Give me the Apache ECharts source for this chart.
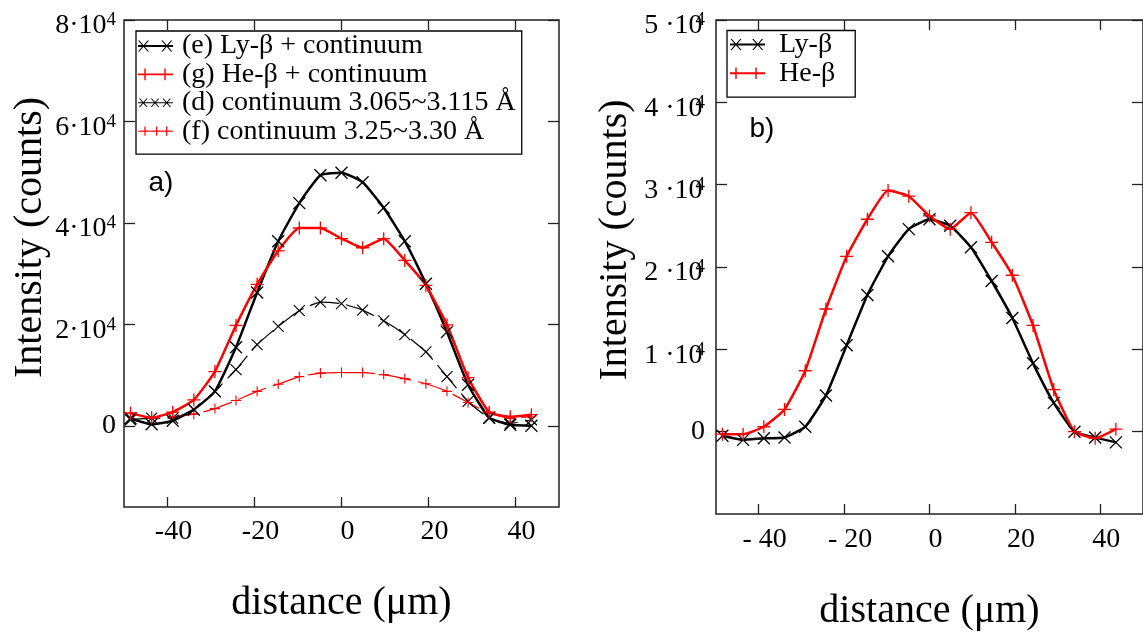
<!DOCTYPE html>
<html>
<head>
<meta charset="utf-8">
<script src="https://cdn.jsdelivr.net/npm/echarts@6/dist/echarts.min.js"></script>
<style>
html,body{margin:0;padding:0;background:#fff;}
#chart{width:1143px;height:636px;}
</style>
</head>
<body>
<div id="chart"></div>
<script>
// ---------- data ----------
const distance = [-48.5, -43.65, -38.8, -33.95, -29.1, -24.25, -19.4, -14.55, -9.7, -4.85, 0, 4.85, 9.7, 14.55, 19.4, 24.25, 29.1, 33.95, 38.8, 43.65];

// panel a)
const lyBetaCont = [1500, 300, 1000, 3200, 6800, 15500, 26300, 36400, 43900, 49400, 49900, 48000, 43000, 36400, 28000, 18500, 8100, 1600, 200, 0];
const heBetaCont = [2500, 1600, 2700, 5100, 10700, 19800, 27900, 34500, 39000, 39000, 36900, 35100, 36900, 32600, 27700, 19900, 9500, 2700, 1800, 2200];
const contD = [1200, 1500, 1500, 3200, 6800, 11100, 16000, 19600, 22700, 24400, 24100, 22800, 20700, 18000, 14600, 9700, 4800, 1500, 500, 1200];
const contF = [2500, 1500, 1800, 2300, 3400, 5000, 6800, 8200, 9700, 10400, 10500, 10500, 10100, 9300, 8300, 6800, 4600, 2500, 1500, 1800];

// panel b)
const lyBeta = [-500, -1000, -800, -700, 600, 4400, 10500, 16600, 21300, 24600, 25800, 25000, 22400, 18300, 13800, 8300, 3500, 0, -700, -1300];
const heBeta = [-300, -300, 600, 2700, 7400, 14900, 21300, 25800, 29300, 28600, 26200, 24600, 26600, 23000, 19000, 12900, 5100, 0, -800, 300];

// tick labels / ranges
const xTicks = [-40, -20, 0, 20, 40];
const yTicksA = [0, 20000, 40000, 60000, 80000];
const yTicksB = [0, 10000, 20000, 30000, 40000, 50000];
const xRange = [-50, 50];
const yRangeA = [-16000, 80000];
const yRangeB = [-10000, 50000];

const names = {
  e: '(e) Ly-β + continuum',
  g: '(g) He-β + continuum',
  d: '(d) continuum 3.065~3.115 Å',
  f: '(f) continuum 3.25~3.30 Å',
  ly: 'Ly-β',
  he: 'He-β'
};

// ---------- styling helpers ----------
const SERIF = "'Liberation Serif', 'Times New Roman', serif";
const SANS = "'Liberation Sans', Arial, sans-serif";
const FRAME = '#222';

function xm(cx, cy, h, t) {
  return `M${cx-h} ${cy-h}L${cx-h+t} ${cy-h}L${cx+h} ${cy+h}L${cx+h-t} ${cy+h}Z` +
         `M${cx+h-t} ${cy-h}L${cx+h} ${cy-h}L${cx-h+t} ${cy+h}L${cx-h} ${cy+h}Z`;
}
function pm(cx, cy, h, t) {
  return `M${cx-h} ${cy-t/2}L${cx+h} ${cy-t/2}L${cx+h} ${cy+t/2}L${cx-h} ${cy+t/2}Z` +
         `M${cx-t/2} ${cy-h}L${cx+t/2} ${cy-h}L${cx+t/2} ${cy+h}L${cx-t/2} ${cy+h}Z`;
}
function bar(w, cy, t) {
  return `M0 ${cy-t/2}L${w} ${cy-t/2}L${w} ${cy+t/2}L0 ${cy+t/2}Z`;
}
const BOUNDS = 'M0 0L35 0M0 12L35 12';

const iconE = 'path://' + BOUNDS + bar(35, 6, 1.9) + xm(5.5, 6, 5.5, 1.4) + xm(28.8, 6, 5.5, 1.4);
const iconG = 'path://' + BOUNDS + bar(35, 6, 1.9) + pm(7, 6, 5.8, 1.4) + pm(27, 6, 5.8, 1.4);
const iconD = 'path://' + BOUNDS + bar(35, 6, 1.0) + xm(5.3, 6, 4.3, 1.2) + xm(17, 6, 4.3, 1.2) + xm(28.7, 6, 4.3, 1.2);
const iconF = 'path://' + BOUNDS + bar(35, 6, 1.0) + pm(7, 6, 4.6, 1.2) + pm(18.7, 6, 4.6, 1.2) + pm(28.7, 6, 4.6, 1.2);
const iconLy = 'path://' + BOUNDS + bar(35, 6, 1.9) + xm(6, 6, 5.5, 1.4) + xm(27.7, 6, 5.5, 1.4);
const iconHe = 'path://' + BOUNDS + bar(35, 6, 1.9) + pm(6, 6, 5.8, 1.4) + pm(26, 6, 5.8, 1.4);

const X_SYM = 'path://M0,0L10,10M10,0L0,10';
const P_SYM = 'path://M5,0L5,10M0,5L10,5';

function pts(vals) { return distance.map((x, i) => [x, vals[i]]); }

function xAxisDef(grid, pos, labels, labelFmt, margin, gap) {
  return {
    type: 'value', gridIndex: grid, position: pos,
    min: xRange[0], max: xRange[1],
    axisLine: {show: false, onZero: false},
    splitLine: {show: false},
    axisTick: {show: true, inside: true, length: 10, customValues: xTicks, lineStyle: {color: FRAME, width: 1.3}},
    axisLabel: labels ? {show: true, customValues: xTicks, margin: margin, formatter: labelFmt,
      fontFamily: SERIF, fontSize: 28, color: '#000', padding: [0, 0, 0, 12]} : {show: false},
    name: labels ? 'distance (μm)' : '',
    nameLocation: 'middle', nameGap: gap,
    nameTextStyle: {fontFamily: SERIF, fontSize: 40, color: '#000'}
  };
}

function yLabelFmt(sep) {
  return function (v) {
    if (v === 0) return '{z|0}';
    return '{m|' + (v / 10000) + sep + '10}{s|4}';
  };
}
function yRich(supShift) {
  return {
    z: {fontFamily: SERIF, fontSize: 28, color: '#000', lineHeight: 28},
    m: {fontFamily: SERIF, fontSize: 28, color: '#000', lineHeight: 28, padding: [12, 0, 0, 0]},
    s: {fontFamily: SERIF, fontSize: 19, color: '#000', lineHeight: 20, padding: [5, 0, 0, supShift], verticalAlign: 'top'}
  };
}

function yAxisDef(grid, pos, range, ticks, labels, sep, supShift, margin, gap, namePad) {
  return {
    type: 'value', gridIndex: grid, position: pos,
    min: range[0], max: range[1],
    axisLine: {show: false, onZero: false},
    splitLine: {show: false},
    axisTick: {show: true, inside: true, length: 11, customValues: ticks, lineStyle: {color: FRAME, width: 1.3}},
    axisLabel: labels ? {show: true, customValues: ticks, margin: margin, formatter: yLabelFmt(sep), rich: yRich(supShift)} : {show: false},
    name: labels ? 'Intensity (counts)' : '',
    nameLocation: 'middle', nameGap: gap,
    nameTextStyle: {fontFamily: SERIF, fontSize: 40, color: '#000', padding: [0, 0, 0, namePad || 0]}
  };
}

function lineSeries(name, xi, yi, vals, color, thick, sym) {
  return {
    name: name, type: 'line', xAxisIndex: xi, yAxisIndex: yi,
    data: pts(vals),
    smooth: 0.15,
    symbol: sym,
    symbolSize: thick ? (sym === X_SYM ? 12 : 13) : (sym === X_SYM ? 11 : 10),
    showSymbol: true,
    itemStyle: {color: color, borderColor: color, borderWidth: thick ? 1.3 : 1.1},
    lineStyle: thick ? {color: color, width: 2.5, type: 'solid'} : {color: color, width: 1.2, type: [30, 7]},
    emphasis: {disabled: true},
    z: thick ? 3 : 2
  };
}

const legendText = (padLeft) => ({fontFamily: SERIF, fontSize: 28, color: '#000', lineHeight: 12, padding: [14, 0, 0, padLeft]});

const option = {
  animation: false,
  backgroundColor: '#fff',
  grid: [
    {left: 124, top: 19, width: 435, height: 488, show: true, borderColor: FRAME, borderWidth: 1.5, backgroundColor: 'transparent'},
    {left: 716, top: 18, width: 435, height: 500, show: true, borderColor: FRAME, borderWidth: 1.5, backgroundColor: 'transparent'}
  ],
  xAxis: [
    xAxisDef(0, 'bottom', true, v => String(v), 11, 76),
    xAxisDef(0, 'top', false),
    xAxisDef(1, 'bottom', true, v => (v < 0 ? '- ' + Math.abs(v) : String(v)), 12, 77),
    xAxisDef(1, 'top', false)
  ],
  yAxis: [
    yAxisDef(0, 'left', yRangeA, yTicksA, true, '·', 0, 8, 74, 52),
    yAxisDef(0, 'right', yRangeA, yTicksA, false),
    yAxisDef(1, 'left', yRangeB, yTicksB, true, ' ·', -7, 11, 81, 54),
    yAxisDef(1, 'right', yRangeB, yTicksB, false)
  ],
  legend: [
    {
      orient: 'vertical', left: 136, top: 31,
      itemWidth: 35, itemHeight: 12, itemGap: 0.4,
      padding: [1, 6, 9, 2],
      borderColor: '#000', borderWidth: 1.3, borderRadius: 0,
      selectedMode: false,
      itemStyle: {borderWidth: 0},
      textStyle: legendText(4),
      data: [
        {name: names.e, icon: iconE},
        {name: names.g, icon: iconG},
        {name: names.d, icon: iconD},
        {name: names.f, icon: iconF}
      ]
    },
    {
      orient: 'vertical', left: 727, top: 30.5,
      itemWidth: 35, itemHeight: 12, itemGap: 0.7,
      padding: [0, 20, 10, 3],
      borderColor: '#000', borderWidth: 1.3, borderRadius: 0,
      selectedMode: false,
      itemStyle: {borderWidth: 0},
      textStyle: legendText(9),
      data: [
        {name: names.ly, icon: iconLy},
        {name: names.he, icon: iconHe}
      ]
    }
  ],
  graphic: [
    {type: 'text', x: 161, y: 183, style: {text: 'a)', fontFamily: SANS, fontSize: 28, fill: '#000', align: 'center', verticalAlign: 'middle'}},
    {type: 'text', x: 762, y: 129, style: {text: 'b)', fontFamily: SANS, fontSize: 28, fill: '#000', align: 'center', verticalAlign: 'middle'}}
  ],
  series: [
    lineSeries(names.d, 0, 0, contD, '#000', false, X_SYM),
    lineSeries(names.f, 0, 0, contF, '#ff0000', false, P_SYM),
    lineSeries(names.e, 0, 0, lyBetaCont, '#000', true, X_SYM),
    lineSeries(names.g, 0, 0, heBetaCont, '#ff0000', true, P_SYM),
    lineSeries(names.ly, 2, 2, lyBeta, '#000', true, X_SYM),
    lineSeries(names.he, 2, 2, heBeta, '#ff0000', true, P_SYM)
  ]
};

const chart = echarts.init(document.getElementById('chart'), null, {renderer: 'canvas'});
chart.setOption(option);
</script>
</body>
</html>
